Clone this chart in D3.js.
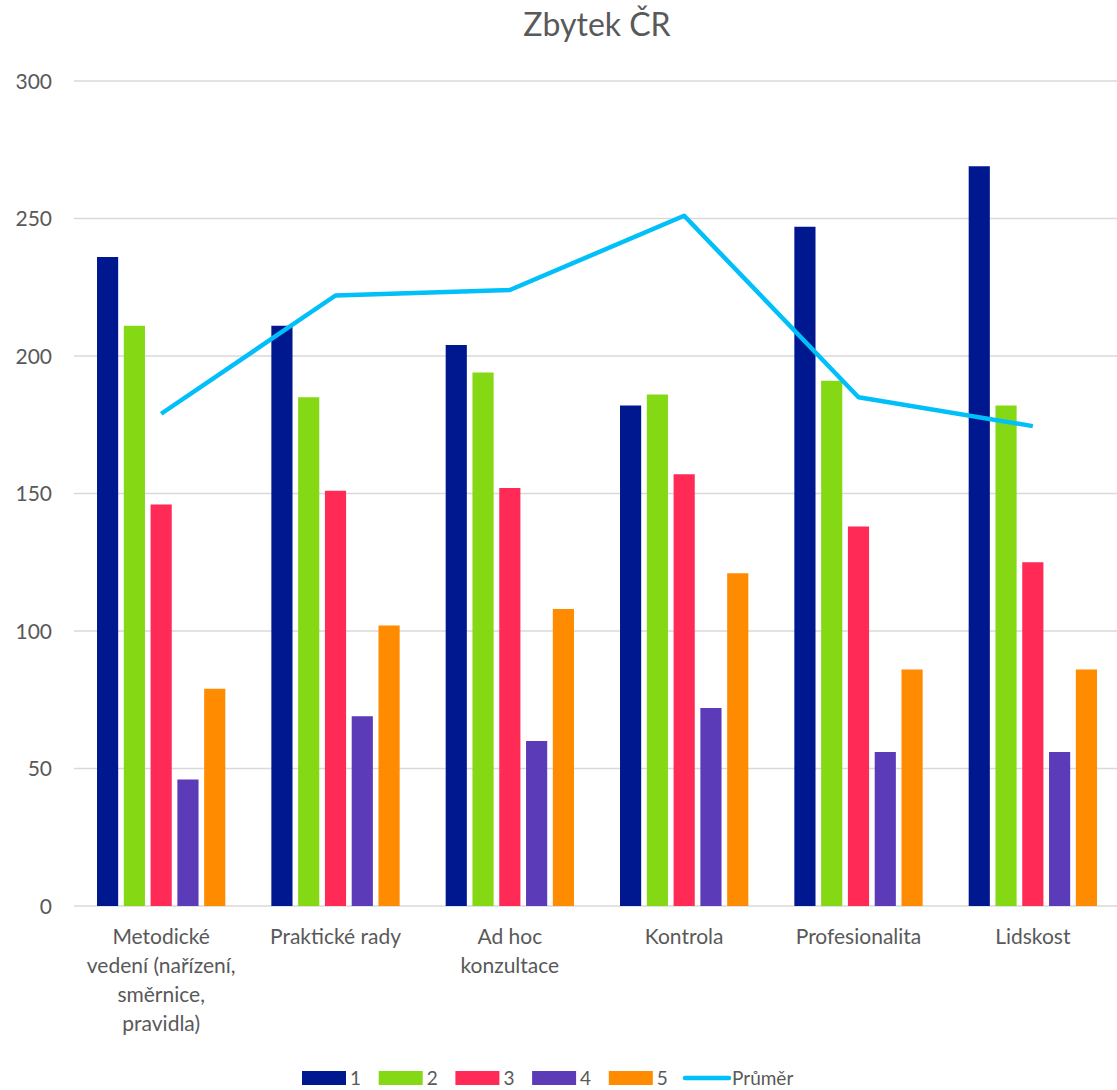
<!DOCTYPE html>
<html lang="cs">
<head>
  <meta charset="UTF-8" />
  <title>Zbytek ČR</title>
  <style>
    body {
      margin: 0;
      background: #fff;
      font-family: Lato, "Open Sans", sans-serif;
    }
    .grid line {
      stroke: #d9d9d9;
      stroke-width: 1.5px;
    }
    .tick text {
      fill: #595959;
      font-size: 21px;
      font-family: Lato, "Open Sans", sans-serif;
    }
  </style>
  <script src="https://d3js.org/d3.v7.min.js"></script>
</head>
<body>
  <div id="chart"></div>
  <script>
    const width = 1117;
    const height = 1090;

    // data
    const categories = [
      "Metodické vedení (nařízení, směrnice, pravidla)",
      "Praktické rady",
      "Ad hoc konzultace",
      "Kontrola",
      "Profesionalita",
      "Lidskost"
    ];
    const categoryLines = [
      ["Metodické", "vedení (nařízení,", "směrnice,", "pravidla)"],
      ["Praktické rady"],
      ["Ad hoc", "konzultace"],
      ["Kontrola"],
      ["Profesionalita"],
      ["Lidskost"]
    ];
    const seriesNames = ["1", "2", "3", "4", "5"];
    const series1 = [236, 211, 204, 182, 247, 269];
    const series2 = [211, 185, 194, 186, 191, 182];
    const series3 = [146, 151, 152, 157, 138, 125];
    const series4 = [46, 69, 60, 72, 56, 56];
    const series5 = [79, 102, 108, 121, 86, 86];
    const average = [179, 222, 224, 251, 185, 174.5];
    const yTicks = [0, 50, 100, 150, 200, 250, 300];
    const colors = ["#00188f", "#84d914", "#ff2a55", "#5b3bb8", "#ff8c00"];
    const lineColor = "#00bff9";

    const seriesValues = [series1, series2, series3, series4, series5];

    const svg = d3.select("#chart")
      .append("svg")
      .attr("width", width)
      .attr("height", height);

    const x0 = d3.scaleBand()
      .domain(categories)
      .range([74, 1120])
      .paddingInner(0.264)
      .paddingOuter(0.132);

    const x1 = d3.scaleBand()
      .domain(seriesNames)
      .range([0, x0.bandwidth()])
      .paddingInner(0.21);

    const y = d3.scaleLinear()
      .domain([0, 300])
      .range([906, 81]);

    // title
    svg.append("text")
      .attr("x", 597)
      .attr("y", 36)
      .attr("text-anchor", "middle")
      .attr("fill", "#595959")
      .style("font-size", "32px")
      .text("Zbytek ČR");

    // gridlines
    svg.append("g")
      .attr("class", "grid")
      .selectAll("line")
      .data(yTicks)
      .enter()
      .append("line")
      .attr("x1", 74)
      .attr("x2", 1117)
      .attr("y1", d => y(d))
      .attr("y2", d => y(d));

    // y axis labels
    const yAxis = d3.axisLeft(y).tickValues(yTicks).tickSize(0).tickPadding(0);
    svg.append("g")
      .attr("transform", "translate(52,0)")
      .call(yAxis)
      .call(g => g.select(".domain").remove())
      .selectAll("text")
      .attr("dy", "0.35em");

    // bars
    const groups = svg.append("g")
      .selectAll("g")
      .data(categories)
      .enter()
      .append("g")
      .attr("transform", d => `translate(${x0(d)},0)`);

    groups.selectAll("rect")
      .data((d, i) => seriesValues.map((vals, s) => ({ key: seriesNames[s], value: vals[i], color: colors[s] })))
      .enter()
      .append("rect")
      .attr("x", d => x1(d.key))
      .attr("y", d => y(d.value))
      .attr("width", x1.bandwidth())
      .attr("height", d => y(0) - y(d.value))
      .attr("fill", d => d.color);

    // average line
    const line = d3.line()
      .x((d, i) => x0(categories[i]) + x0.bandwidth() / 2)
      .y(d => y(d));

    svg.append("path")
      .datum(average)
      .attr("d", line)
      .attr("fill", "none")
      .attr("stroke", lineColor)
      .attr("stroke-width", 4.5)
      .attr("stroke-linejoin", "round");

    // category labels
    const catLabels = svg.append("g")
      .selectAll("text")
      .data(categories)
      .enter()
      .append("text")
      .attr("x", d => x0(d) + x0.bandwidth() / 2)
      .attr("y", 944)
      .attr("text-anchor", "middle")
      .attr("fill", "#595959")
      .style("font-size", "21px");

    catLabels.each(function(d, i) {
      const t = d3.select(this);
      categoryLines[i].forEach((ln, k) => {
        t.append("tspan")
          .attr("x", x0(d) + x0.bandwidth() / 2)
          .attr("dy", k === 0 ? 0 : 29)
          .text(ln);
      });
    });

    // legend
    const legend = svg.append("g")
      .attr("transform", "translate(302,1071)");

    seriesNames.forEach((name, i) => {
      const item = legend.append("g")
        .attr("transform", `translate(${i * 76.7},0)`);
      item.append("rect")
        .attr("width", 44)
        .attr("height", 14)
        .attr("fill", colors[i]);
      item.append("text")
        .attr("x", 48)
        .attr("y", 14)
        .attr("fill", "#595959")
        .style("font-size", "19px")
        .text(name);
    });

    const lineItem = legend.append("g")
      .attr("transform", "translate(381,0)");
    lineItem.append("line")
      .attr("x1", 2)
      .attr("x2", 46)
      .attr("y1", 7)
      .attr("y2", 7)
      .attr("stroke", lineColor)
      .attr("stroke-width", 4.5)
      .attr("stroke-linecap", "round");
    lineItem.append("text")
      .attr("x", 49)
      .attr("y", 14)
      .attr("fill", "#595959")
      .style("font-size", "19px")
      .text("Průměr");
  </script>
</body>
</html>
